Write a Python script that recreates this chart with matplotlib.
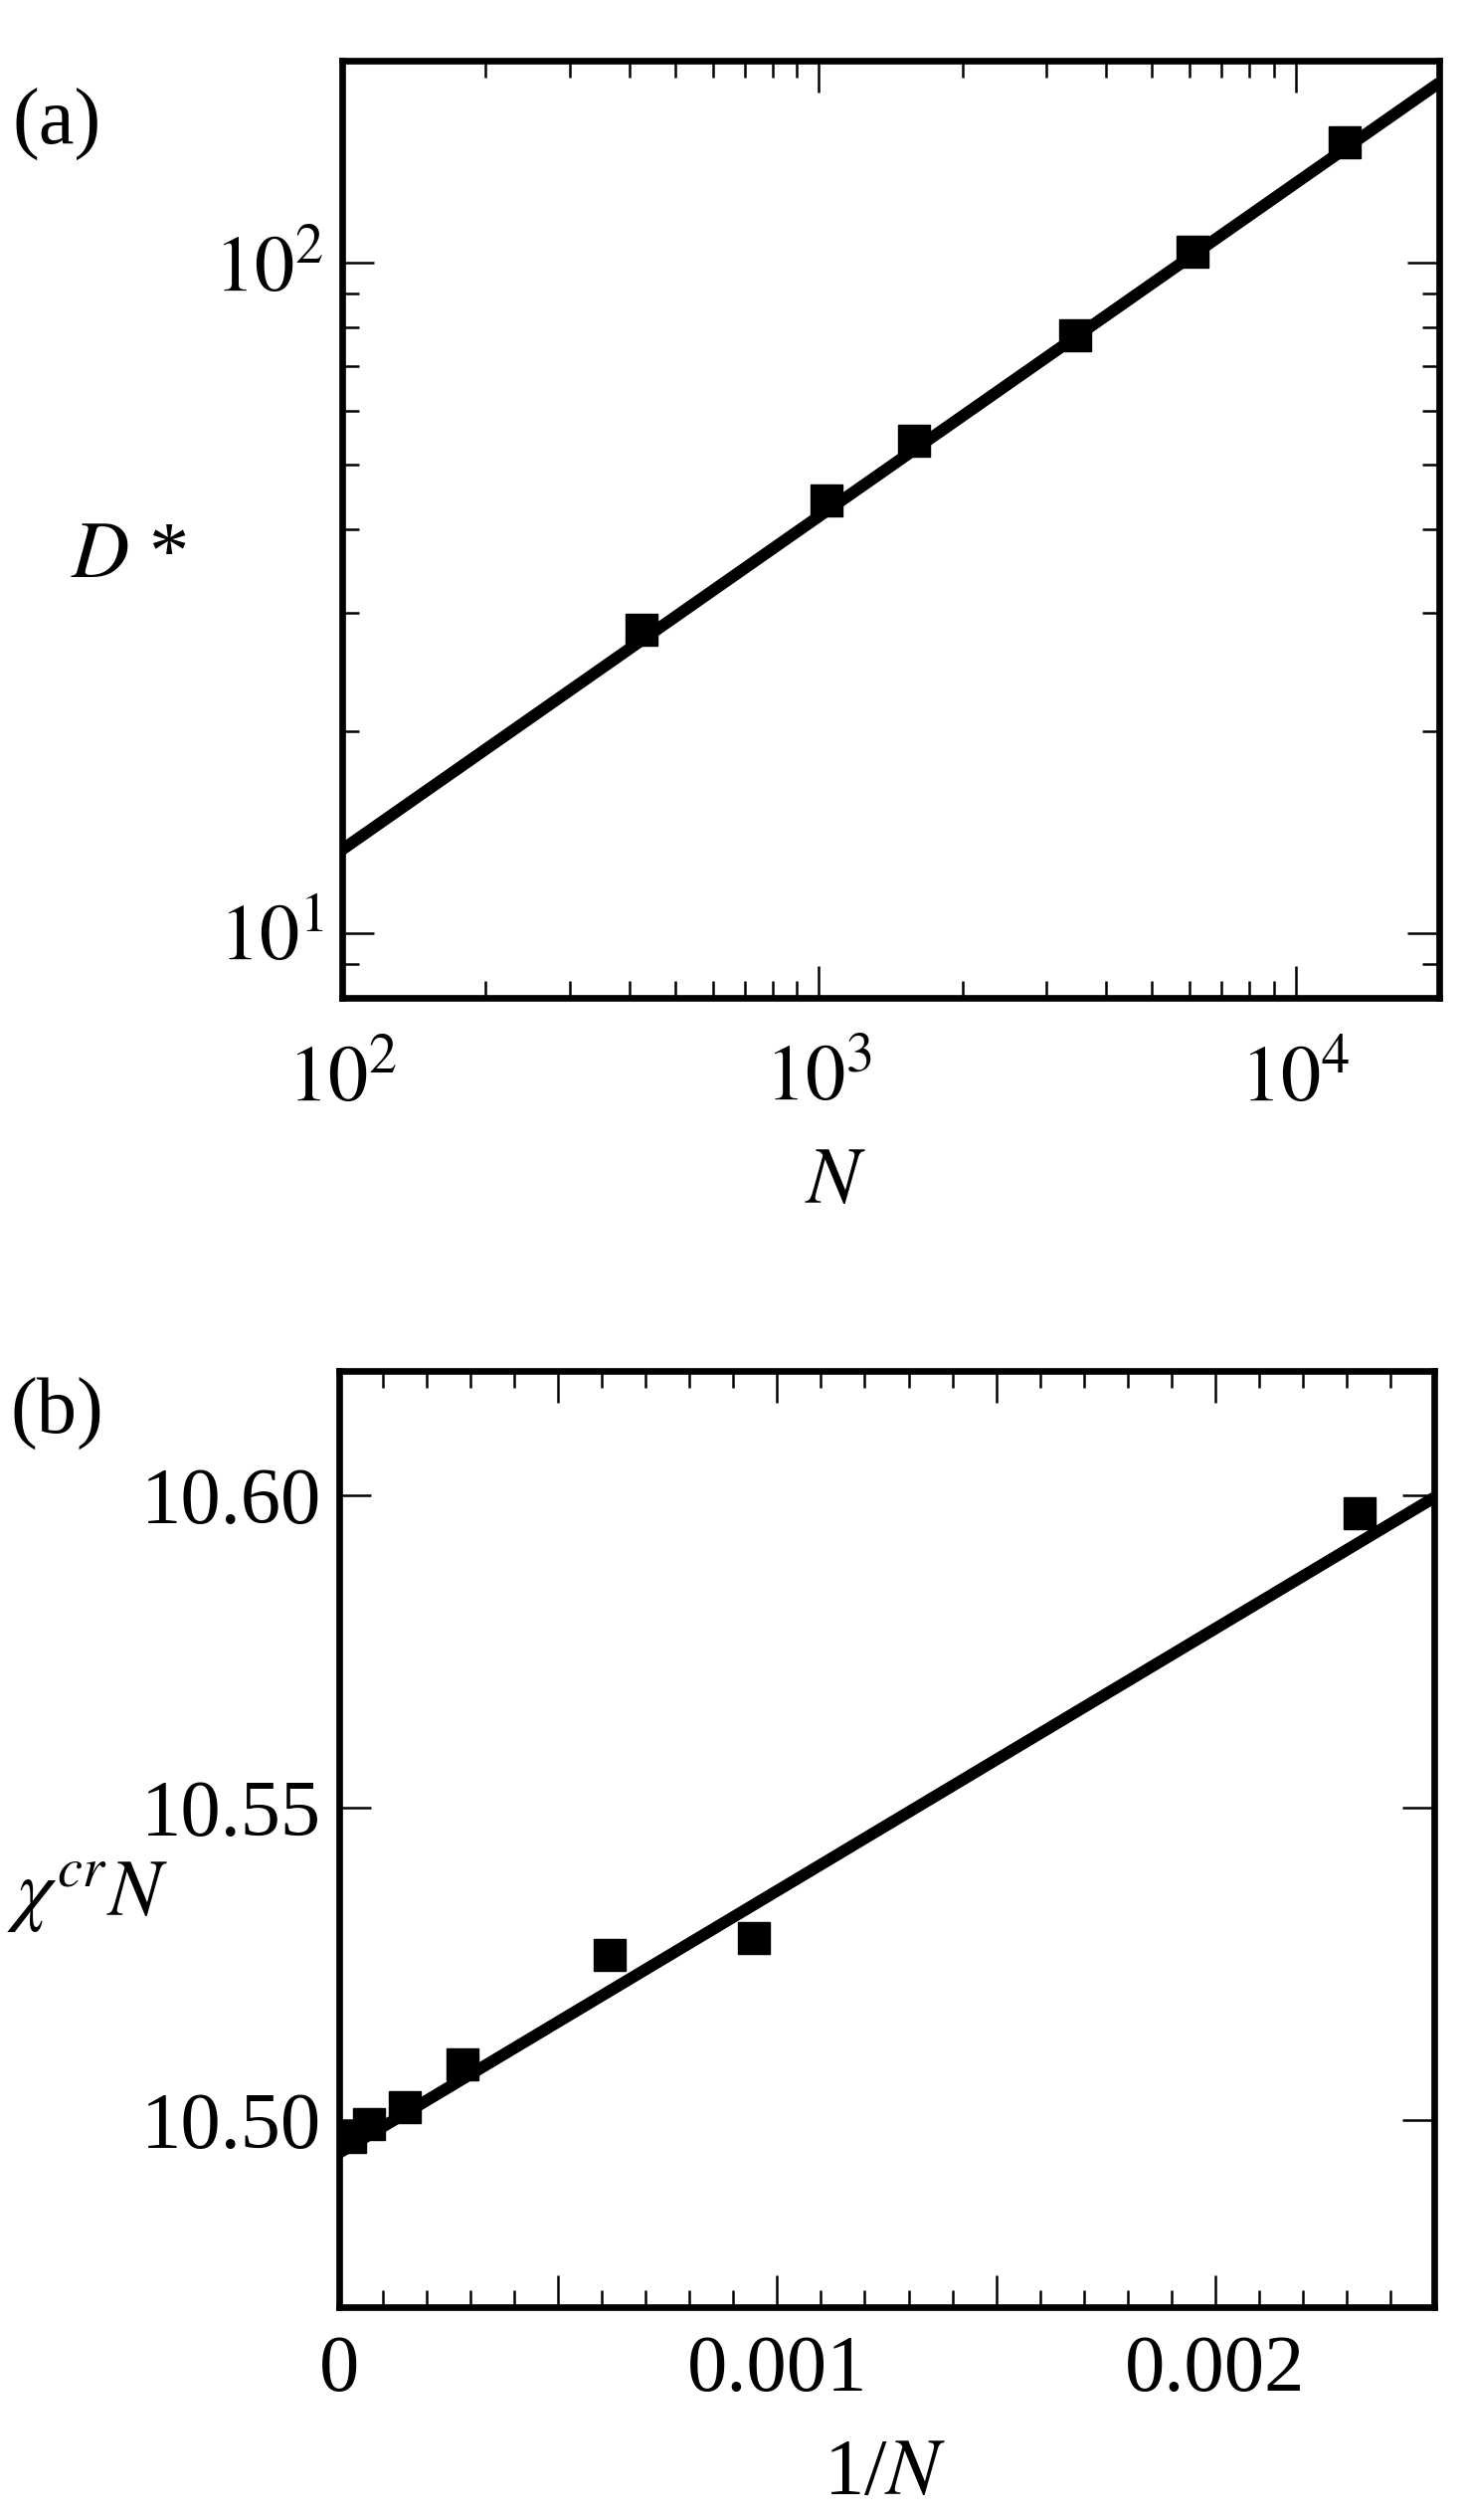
import numpy as np
import matplotlib
matplotlib.use("Agg")
import matplotlib.pyplot as plt
from matplotlib.ticker import LogLocator, NullFormatter, FuncFormatter, MultipleLocator, NullLocator

plt.rcParams['font.family'] = ['Liberation Serif', 'DejaVu Serif']
plt.rcParams['mathtext.fontset'] = 'stix'

# (a) D* against N, log-log
N_a = [424, 1038, 1585, 3443, 6065, 12650]
D_a = [28.3, 44.2, 54.2, 78.0, 103.9, 151.0]
fit_a_pref = 1.35      # D* = pref * N^exp
fit_a_exp = 0.497
fit_a_range = [1e2, 2e4]

# (b) chi^cr N against 1/N
invN_b = [2.5e-5, 6.8e-5, 1.50e-4, 2.82e-4, 6.17e-4, 9.47e-4, 2.329e-3]
chiN_b = [10.4973, 10.4993, 10.5020, 10.5089, 10.5264, 10.5292, 10.5972]
fit_b_icpt = 10.4947   # chiN = icpt + slope/N
fit_b_slope = 42.0
fit_b_range = [0.0, 0.0025]

FS = 58
LW_SPINE = 4.8
LW_LINE = 8.5
MS = 23

fig = plt.figure(figsize=(14.76, 25.33), dpi=100)
ax1 = fig.add_axes([0.2331, 0.6040, 0.7472, 0.3719])
ax2 = fig.add_axes([0.2310, 0.0845, 0.7460, 0.3715])

# ---- panel (a)
xa = np.array(fit_a_range)
ax1.plot(xa, fit_a_pref * xa ** fit_a_exp, 'k-', lw=LW_LINE, solid_capstyle='butt', zorder=2)
ax1.plot(N_a, D_a, 'ks', ms=MS, zorder=3)
ax1.set_xscale('log')
ax1.set_yscale('log')
ax1.set_xlim(1e2, 2e4)
ax1.set_ylim(8, 200)
ax1.xaxis.set_major_locator(LogLocator(base=10))
ax1.xaxis.set_minor_locator(LogLocator(base=10, subs=np.arange(2, 10)))
ax1.yaxis.set_major_locator(LogLocator(base=10))
ax1.yaxis.set_minor_locator(LogLocator(base=10, subs=np.arange(2, 10)))
pow_fmt = FuncFormatter(lambda v, p: r"$10^{%d}$" % int(round(np.log10(v))))
ax1.xaxis.set_major_formatter(pow_fmt)
ax1.yaxis.set_major_formatter(pow_fmt)
ax1.xaxis.set_minor_formatter(NullFormatter())
ax1.yaxis.set_minor_formatter(NullFormatter())

# ---- panel (b)
xb = np.array(fit_b_range)
ax2.plot(xb, fit_b_icpt + fit_b_slope * xb, 'k-', lw=LW_LINE, solid_capstyle='butt', zorder=2)
ax2.plot(invN_b, chiN_b, 'ks', ms=MS, zorder=3)
ax2.set_xlim(0, 0.0025)
ax2.set_ylim(10.47, 10.62)
ax2.xaxis.set_major_locator(MultipleLocator(0.0005))
ax2.xaxis.set_minor_locator(MultipleLocator(0.0001))
ax2.yaxis.set_major_locator(MultipleLocator(0.05))
ax2.yaxis.set_minor_locator(NullLocator())


def fmt_b(v, p):
    k = int(round(v / 0.0005))
    if k % 2:
        return ""
    if k == 0:
        return "0"
    return "%.3f" % v


ax2.xaxis.set_major_formatter(FuncFormatter(fmt_b))
ax2.yaxis.set_major_formatter(FuncFormatter(lambda v, p: "%.2f" % v))

for ax in (ax1, ax2):
    for s in ax.spines.values():
        s.set_linewidth(LW_SPINE)
    ax.tick_params(which='both', direction='in', top=True, right=True, labelsize=FS, width=1.8)
    ax.tick_params(which='major', length=23)
    ax.tick_params(which='minor', length=12)
    ax.tick_params(axis='y', pad=13)
ax1.tick_params(axis='x', pad=34)
ax2.tick_params(axis='x', pad=20)

# labels placed in figure pixels
W, H = 1476.0, 2533.0
fig.text(57 / W, 1 - 125 / H, "(a)", fontsize=FS, ha='center', va='center')
fig.text(130 / W, 1 - 560 / H, r"$D$ *", fontsize=FS, ha='center', va='center')
fig.text(840 / W, 1 - 1190 / H, r"$N$", fontsize=FS, ha='center', va='center')
fig.text(57 / W, 1 - 1421 / H, "(b)", fontsize=FS, ha='center', va='center')
fig.text(7 / W, 1 - 1925 / H, r"$\chi^{cr}N$", fontsize=FS, ha='left', va='baseline')
fig.text(890 / W, 1 - 2487 / H, r"1/$N$", fontsize=FS, ha='center', va='center')

fig.savefig("out.png", dpi=100)
